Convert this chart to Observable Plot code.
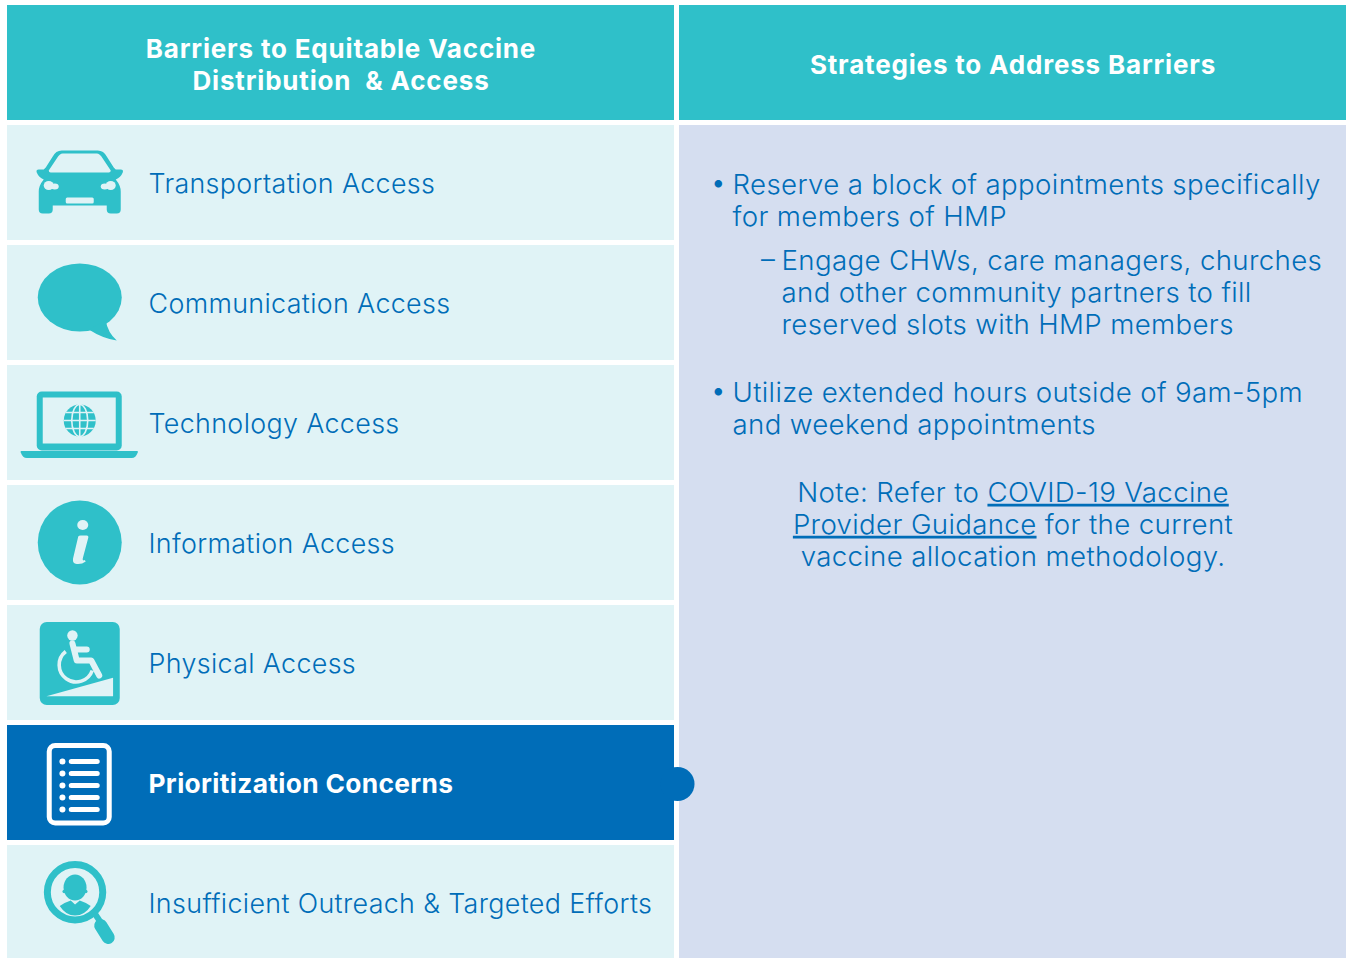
<!DOCTYPE html>
<html><head><meta charset="utf-8">
<script src="https://cdn.jsdelivr.net/npm/d3@7"></script>
<script src="https://cdn.jsdelivr.net/npm/@observablehq/plot@0.6"></script>
<style>
html,body{margin:0;padding:0;background:#fff;overflow:hidden}
svg{display:block}
svg text{letter-spacing:.35px}
svg g.hdr text{letter-spacing:.82px}
</style></head><body>
<div id="chart"></div>
<script>
const columnTitles = ["Barriers to Equitable Vaccine\nDistribution  & Access", "Strategies to Address Barriers"];
const barriers = ["Transportation Access","Communication Access","Technology Access","Information Access","Physical Access","Prioritization Concerns","Insufficient Outreach & Targeted Efforts"];
const selectedBarrier = "Prioritization Concerns";
const bulletParagraphs = ["Reserve a block of appointments specifically\nfor members of HMP","Utilize extended hours outside of 9am-5pm\nand weekend appointments"];
const subParagraphs = ["Engage CHWs, care managers, churches\nand other community partners to fill\nreserved slots with HMP members"];
const noteLines = "Note: Refer to COVID-19 Vaccine\nProvider Guidance for the current\nvaccine allocation methodology.";
const noteLinks = ["COVID-19 Vaccine","Provider Guidance"];

const TEAL="#2FC0C9", LIGHT="#E0F3F6", BLUE="#006DB8", LAV="#D5DEF0";
const L=LIGHT,T=TEAL;
const icons = {
"Transportation Access":`<path fill="${T}" d="M62 25H98Q104 25 107 31L114 42L116 44H121Q124 44 123 47Q121 52 116 54Q121 60 121 66V84Q121 88 117 88H111Q107 88 107 84V80H53V84Q53 88 49 88H43Q39 88 39 84V66Q39 60 44 54Q39 52 37 47Q36 44 39 44H44L46 42L53 31Q56 25 62 25Z"/><path fill="${L}" d="M63 28H97Q100 28 103 33L111 45Q111 47 109 47H51Q49 47 49 45L57 33Q60 28 63 28Z"/><ellipse fill="${L}" cx="49" cy="60" rx="5" ry="4.5"/><ellipse fill="${L}" cx="55" cy="61" rx="4" ry="3"/><ellipse fill="${L}" cx="111" cy="60" rx="5" ry="4.5"/><ellipse fill="${L}" cx="105" cy="61" rx="4" ry="3"/><rect fill="${L}" x="66" y="72" width="28" height="6" rx="1.5"/>`,
"Communication Access":`<ellipse fill="${T}" cx="80" cy="52" rx="42" ry="34"/><path fill="${T}" d="M89 84Q103 93 117 95Q108 87 106 75Z"/>`,
"Technology Access":`<rect fill="${T}" x="37" y="26" width="85" height="59" rx="5"/><rect fill="${L}" x="43" y="32" width="73" height="46"/><path fill="${T}" d="M21 85.5H138V87Q136 92.5 132 92.5H27Q23 92.5 21 87Z"/><circle fill="${T}" cx="80" cy="55" r="16"/><g fill="none" stroke="${L}" stroke-width="1.6"><ellipse cx="80" cy="55" rx="8" ry="16"/><path d="M80 39V71M64 55H96M66 47H94M66 63H94"/></g>`,
"Information Access":`<circle fill="${T}" cx="80" cy="57" r="42"/><ellipse fill="${L}" cx="83" cy="39.5" rx="5.5" ry="5"/><path fill="${L}" d="M78.5 51Q79 50 81 50H87Q89 50 88.6 52L83 73Q82.5 75 84 75L85 74.5L86 76Q82 79 77 78.5Q72.5 78 73.3 73Z"/>`,
"Physical Access":`<rect fill="${T}" x="40" y="16.5" width="80" height="83" rx="7"/><circle fill="${L}" cx="72.7" cy="30" r="5.2"/><path fill="none" stroke="${L}" stroke-width="6" stroke-linecap="round" stroke-linejoin="round" d="M72.7 38L77 55H91.5L99.5 70M77 44H87"/><path fill="none" stroke="${L}" stroke-width="3.6" d="M66 46A17 17 0 1 0 92.5 65"/><path fill="${L}" d="M46.7 90.7L113.3 72.3V90.7Z"/>`,
"Prioritization Concerns":`<rect fill="none" stroke="#fff" stroke-width="5" x="49.5" y="20" width="60" height="77.5" rx="6"/><g fill="#fff"><circle cx="62.7" cy="36" r="3"/><circle cx="62.7" cy="48" r="3"/><circle cx="62.7" cy="60" r="3"/><circle cx="62.7" cy="72" r="3"/><circle cx="62.7" cy="84" r="3"/></g><path stroke="#fff" stroke-width="5" stroke-linecap="round" d="M71.5 36H97.5M71.5 48H97.5M71.5 60H97.5M71.5 72H97.5M71.5 84H97.5"/>`,
"Insufficient Outreach & Targeted Efforts":`<circle fill="none" stroke="${T}" stroke-width="7" cx="75.3" cy="46.7" r="27.7"/><ellipse fill="${T}" cx="75.3" cy="42" rx="11.5" ry="13"/><circle fill="${T}" cx="64.5" cy="46" r="1.8"/><circle fill="${T}" cx="86" cy="46" r="1.8"/><path fill="${T}" d="M60 60.5Q66 56.5 71 55L75.3 59L80 55Q85 56.5 91 60.5Q85 70 75.3 70Q66 70 60 60.5Z"/><path stroke="${T}" stroke-width="6" d="M95 68L101 77"/><path stroke="${T}" stroke-width="13" stroke-linecap="round" d="M101 80L108.5 92"/>`
};
const iconSrc = name => "data:image/svg+xml," + encodeURIComponent(`<svg xmlns="http://www.w3.org/2000/svg" viewBox="0 0 160 115" width="160" height="115">${icons[name]}</svg>`);

// Table geometry in table units: one column = 1, one row = 1
const cellW = 667/672, cellH = 115/120;
const rows = barriers.map((b,i)=>({b,row:i+1}));
const plainRows = rows.filter(d=>d.b!==selectedBarrier);
const selectedRows = rows.filter(d=>d.b===selectedBarrier);
const font = "Inter, Lato, sans-serif";

function underlineLinks(index, scales, values, dims, ctx, next){
  const g = next(index, scales, values, dims, ctx);
  g.querySelectorAll("tspan").forEach(t=>{
    const s=t.textContent, link=noteLinks.find(k=>s.includes(k));
    if(!link) return;
    const [a,b]=s.split(link);
    t.textContent="";
    const add=(txt,u)=>{ if(!txt) return; const e=document.createElementNS("http://www.w3.org/2000/svg","tspan"); e.textContent=txt; if(u) e.setAttribute("text-decoration","underline"); t.appendChild(e); };
    add(a,false);add(link,true);add(b,false);
  });
  return g;
}
function headerStyle(index, scales, values, dims, ctx, next){
  const g = next(index, scales, values, dims, ctx);
  g.setAttribute("class",(g.getAttribute("class")||"")+" hdr");
  return g;
}
const bodySize=27.65, rowSize=26.85, lh=32/bodySize;
const plot = Plot.plot({
  width:1347,height:958,margin:0,
  x:{type:"linear",domain:[0,2],range:[7,1351],axis:null},
  y:{type:"linear",domain:[0,8],range:[5,965],axis:null},
  style:{background:"transparent",fontFamily:font},
  marks:[
    Plot.rect(columnTitles,{x1:(d,i)=>i,x2:(d,i)=>i+cellW,y1:0,y2:cellH,fill:TEAL}),
    Plot.rect(rows,{x1:0,x2:cellW,y1:d=>d.row,y2:d=>d.row+cellH,fill:d=>d.b===selectedBarrier?BLUE:LIGHT}),
    Plot.rect([0],{x1:1,x2:1+cellW,y1:1,y2:8,fill:LAV}),
    Plot.dot([selectedBarrier],{x:cellW+0.0045,y:barriers.indexOf(selectedBarrier)+1+cellH/2,dy:1,r:17,fill:BLUE}),
    Plot.text(columnTitles,{x:(d,i)=>i+cellW/2,y:cellH/2,dy:0.5,text:d=>d,fill:"#fff",fontSize:26,fontWeight:700,lineHeight:32/26,lineAnchor:"middle",textAnchor:"middle",render:headerStyle}),
    Plot.image(rows,{x:0.1075,y:d=>d.row+cellH/2,src:d=>iconSrc(d.b),width:160,height:115}),
    Plot.text(plainRows,{x:0.2098,y:d=>d.row+cellH/2,dy:1.5,text:"b",textAnchor:"start",lineAnchor:"middle",fontSize:rowSize,fontWeight:300,fill:BLUE}),
    Plot.text(selectedRows,{x:0.2098,y:d=>d.row+cellH/2,dy:1.5,text:"b",textAnchor:"start",lineAnchor:"middle",fontSize:26.3,fontWeight:700,fill:"#fff"}),
    Plot.text(bulletParagraphs,{x:1.0789,y:(d,i)=>[1.625,3.358][i],dy:-1,text:d=>d,textAnchor:"start",lineAnchor:"middle",fontSize:bodySize,fontWeight:300,lineHeight:lh,fill:BLUE}),
    Plot.text(bulletParagraphs,{x:1.0463,y:(d,i)=>[1.492,3.225][i],dy:-1,text:()=>"•",textAnchor:"start",lineAnchor:"middle",fontSize:bodySize,fontWeight:300,fill:BLUE}),
    Plot.text(subParagraphs,{x:1.1518,y:2.392,dy:-1,text:d=>d,textAnchor:"start",lineAnchor:"middle",fontSize:bodySize,fontWeight:300,lineHeight:lh,fill:BLUE}),
    Plot.text(subParagraphs,{x:1.1212,y:2.125,dy:0,text:()=>"–",textAnchor:"start",lineAnchor:"middle",fontSize:bodySize,fontWeight:300,fill:BLUE}),
    Plot.text([noteLines],{x:1+cellW/2,y:4.325,dy:-1,text:d=>d,textAnchor:"middle",lineAnchor:"middle",fontSize:bodySize,fontWeight:300,lineHeight:lh,fill:BLUE,render:underlineLinks})
  ]
});
document.getElementById("chart").appendChild(plot);
</script>
</body></html>
